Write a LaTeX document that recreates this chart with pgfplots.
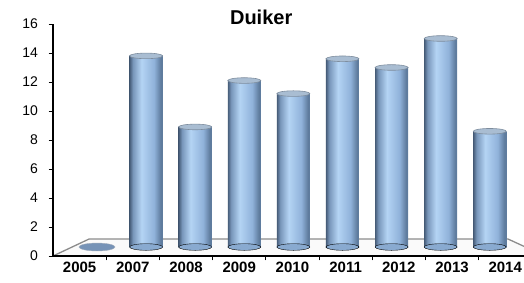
\documentclass[border=0pt]{standalone}
\usepackage{fontspec}
\setmainfont{Liberation Sans}
\usepackage{pgfplots}
\pgfplotsset{compat=1.18}
\definecolor{c0}{HTML}{475D79}
\definecolor{c1}{HTML}{7896BA}
\definecolor{c2}{HTML}{B4D4F4}
\definecolor{c3}{HTML}{90B2DA}
\definecolor{c4}{HTML}{5F7C9E}
\definecolor{topc}{HTML}{A9BDD2}
\definecolor{rimc}{HTML}{7E8D9E}
\definecolor{floorline}{HTML}{8C8C8C}
\pgfdeclarehorizontalshading{cyl}{100bp}{color(0bp)=(c0); color(25bp)=(c0); color(30bp)=(c1); color(43bp)=(c2); color(62bp)=(c3); color(72bp)=(c4); color(75bp)=(c4); color(100bp)=(c4)}
\pgfplotsset{cylbar/.style={ybar, bar width=33pt, draw=none, shade, shading=cyl, y filter/.expression={y-0.62}}}
\begin{document}
\begin{tikzpicture}
\begin{axis}[
  at={(53pt,27pt)}, anchor=south west,
  width=471pt, height=232pt, scale only axis,
  xmin=-0.5, xmax=8.353, ymin=0, ymax=16,
  axis x line=bottom, axis y line=left,
  axis line style={-},
  x axis line style={line width=1.3pt},
  y axis line style={line width=1.8pt},
  axis on top,
  xtick={0.5,1.5,...,7.5}, xticklabels={},
  extra x ticks={0,1,2,3,4,5,6,7,8},
  extra x tick labels={2005,2007,2008,2009,2010,2011,2012,2013,2014},
  extra x tick style={major tick length=0pt},
  xticklabel style={font=\bfseries\fontsize{15}{15}\selectfont, yshift=-2pt},
  ytick={0,2,...,16},
  yticklabel style={font=\fontsize{14}{14}\selectfont, xshift=-7pt},
  /pgf/number format/assume math mode=true,
  tick align=outside,
  major tick length=4.5pt,
  tick style={black, line width=0.9pt},
  title={Duiker},
  title style={font=\bfseries\fontsize{20}{20}\selectfont, at={(rel axis cs:0.442,1)}, anchor=base, yshift=-6.7pt},
]
\addplot[draw=floorline, fill=gray!4, line width=1.3pt] coordinates {(-0.5,0) (0.177,1.17) (8.053,1.17) (8.748,0)} \closedcycle;
\end{axis}
\begin{axis}[
  at={(53pt,27pt)}, anchor=south west,
  width=471pt, height=232pt, scale only axis,
  xmin=-0.896, xmax=8.697, ymin=-0.62, ymax=15.38,
  hide axis,
]
% 2005: value 0, flat disc
\addplot[only marks, mark=*, mark size=18pt, mark options={yscale=0.22, fill=c1!95!c0, draw=c0!50}] coordinates {(0,0)};
% bottoms of cylinders
\addplot[only marks, mark=*, mark size=16.5pt, mark options={yscale=0.2, fill=c3!90!c0, draw=none}] coordinates {(1,0) (2,0) (3,0) (4,0) (5,0) (6,0) (7,0) (8,0)};
% cylinders, one path each
\addplot[cylbar] coordinates {(1,13.8)};
\addplot[cylbar] coordinates {(2,8.9)};
\addplot[cylbar] coordinates {(3,12.1)};
\addplot[cylbar] coordinates {(4,11.2)};
\addplot[cylbar] coordinates {(5,13.6)};
\addplot[cylbar] coordinates {(6,13.0)};
\addplot[cylbar] coordinates {(7,15.0)};
\addplot[cylbar] coordinates {(8,8.6)};
% tops
\addplot[only marks, mark=*, mark size=16.5pt, mark options={yscale=0.17, fill=topc, draw=rimc, line width=0.6pt}, y filter/.expression={y-0.62}] coordinates {(1,13.8) (2,8.9) (3,12.1) (4,11.2) (5,13.6) (6,13.0) (7,15.0) (8,8.6)};
\end{axis}
\pgfresetboundingbox
\path[use as bounding box] (0,0) rectangle (524pt,283pt);
\end{tikzpicture}
\end{document}
